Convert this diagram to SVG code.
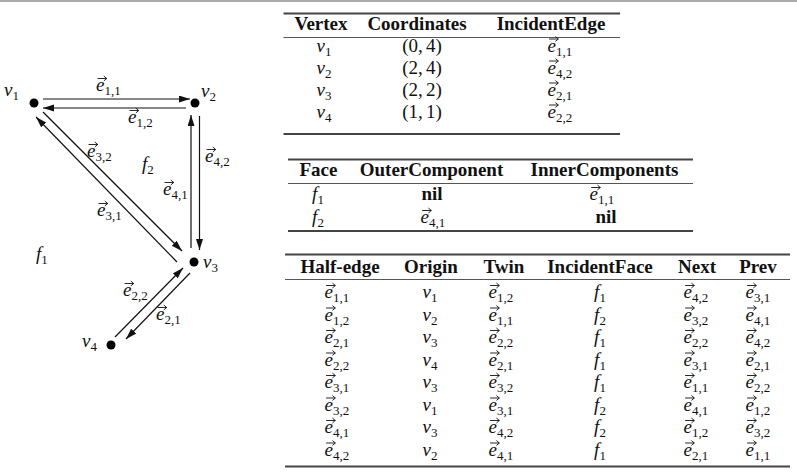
<svg xmlns="http://www.w3.org/2000/svg" xmlns:xlink="http://www.w3.org/1999/xlink" width="797" height="473" viewBox="0 0 797 473">
<style>
.m{font-family:"Liberation Serif","DejaVu Serif",serif;font-size:19px;fill:#111}
.b{font-weight:bold}
.it{font-style:italic}
.s{font-size:13px;font-style:normal}
.c{text-anchor:middle}
.edge{stroke:#111;stroke-width:1.2;fill:none;marker-end:url(#ah)}
.dot{fill:#000}
.rt{stroke:#444;stroke-width:1.8}
.rm{stroke:#555;stroke-width:1}
.vec{stroke:#111;stroke-width:0.9;fill:none;stroke-linecap:round}
</style>
<defs>
<marker id="ah" markerUnits="userSpaceOnUse" markerWidth="11" markerHeight="8" refX="11" refY="3.5" orient="auto">
<path d="M0,0 L11,3.5 L0,7 z" fill="#111"/>
</marker>
<path id="vec" class="vec" d="M0,0 H8.5 M6.2,-2.2 L8.8,0 L6.2,2.2"/>
</defs>
<rect width="797" height="473" fill="#fff"/>
<line x1="0" y1="1" x2="797" y2="1" stroke="#aaa" stroke-width="2"/>

<g id="connectors">
<line class="edge" x1="43" y1="99" x2="190" y2="99"/>
<line class="edge" x1="186" y1="108" x2="43" y2="108"/>
<line class="edge" x1="199.5" y1="116" x2="199.5" y2="250"/>
<line class="edge" x1="191" y1="248" x2="191" y2="115"/>
<line class="edge" x1="43" y1="112" x2="182" y2="251"/>
<line class="edge" x1="177" y1="262" x2="36" y2="117"/>
<line class="edge" x1="115" y1="337" x2="183" y2="268"/>
<line class="edge" x1="190" y1="273" x2="126" y2="339"/>
</g>

<g id="v1"><circle class="dot" cx="34" cy="103" r="4.5"/><text class="m" x="4" y="96"><tspan class="it">v</tspan><tspan class="s" dy="4">1</tspan></text></g>
<g id="v2"><circle class="dot" cx="195" cy="103" r="4.5"/><text class="m" x="201" y="97"><tspan class="it">v</tspan><tspan class="s" dy="4">2</tspan></text></g>
<g id="v3"><circle class="dot" cx="194" cy="262" r="4.5"/><text class="m" x="203" y="268"><tspan class="it">v</tspan><tspan class="s" dy="4">3</tspan></text></g>
<g id="v4"><circle class="dot" cx="111" cy="345" r="4.5"/><text class="m" x="82" y="347"><tspan class="it">v</tspan><tspan class="s" dy="4">4</tspan></text></g>

<g id="graph-labels">
<g transform="translate(108.4,91)"><text class="m" x="-12.4"><tspan class="it">e</tspan><tspan class="s" dy="4">1,1</tspan></text><use xlink:href="#vec" x="-10.5" y="-12.5"/></g>
<g transform="translate(140.4,123)"><text class="m" x="-12.4"><tspan class="it">e</tspan><tspan class="s" dy="4">1,2</tspan></text><use xlink:href="#vec" x="-10.5" y="-12.5"/></g>
<g transform="translate(99.4,157)"><text class="m" x="-12.4"><tspan class="it">e</tspan><tspan class="s" dy="4">3,2</tspan></text><use xlink:href="#vec" x="-10.5" y="-12.5"/></g>
<g transform="translate(217.4,162)"><text class="m" x="-12.4"><tspan class="it">e</tspan><tspan class="s" dy="4">4,2</tspan></text><use xlink:href="#vec" x="-10.5" y="-12.5"/></g>
<g transform="translate(175.4,195)"><text class="m" x="-12.4"><tspan class="it">e</tspan><tspan class="s" dy="4">4,1</tspan></text><use xlink:href="#vec" x="-10.5" y="-12.5"/></g>
<g transform="translate(109.4,216)"><text class="m" x="-12.4"><tspan class="it">e</tspan><tspan class="s" dy="4">3,1</tspan></text><use xlink:href="#vec" x="-10.5" y="-12.5"/></g>
<g transform="translate(135.4,296)"><text class="m" x="-12.4"><tspan class="it">e</tspan><tspan class="s" dy="4">2,2</tspan></text><use xlink:href="#vec" x="-10.5" y="-12.5"/></g>
<g transform="translate(168.4,320)"><text class="m" x="-12.4"><tspan class="it">e</tspan><tspan class="s" dy="4">2,1</tspan></text><use xlink:href="#vec" x="-10.5" y="-12.5"/></g>
<text class="m" x="142" y="170"><tspan class="it">f</tspan><tspan class="s" dy="4">2</tspan></text>
<text class="m" x="36" y="260"><tspan class="it">f</tspan><tspan class="s" dy="4">1</tspan></text>
</g>

<g id="vertex-table">
<line class="rt" x1="283.5" y1="13.5" x2="620" y2="13.5"/>
<line class="rm" x1="283.5" y1="37.5" x2="620" y2="37.5"/>
<line class="rt" x1="283.5" y1="134" x2="620" y2="134"/>
<text class="m b c" x="321" y="30">Vertex</text>
<text class="m b c" x="417" y="30">Coordinates</text>
<text class="m b c" x="551" y="30">IncidentEdge</text>
<text class="m c" x="324" y="51.5"><tspan class="it">v</tspan><tspan class="s" dy="4">1</tspan></text>
<text class="m c" x="324" y="73.5"><tspan class="it">v</tspan><tspan class="s" dy="4">2</tspan></text>
<text class="m c" x="324" y="95.5"><tspan class="it">v</tspan><tspan class="s" dy="4">3</tspan></text>
<text class="m c" x="324" y="117.5"><tspan class="it">v</tspan><tspan class="s" dy="4">4</tspan></text>
<text class="m c" x="422" y="51.5">(0,<tspan dx="3">4)</tspan></text>
<text class="m c" x="422" y="73.5">(2,<tspan dx="3">4)</tspan></text>
<text class="m c" x="422" y="95.5">(2,<tspan dx="3">2)</tspan></text>
<text class="m c" x="422" y="117.5">(1,<tspan dx="3">1)</tspan></text>
<g transform="translate(560,51.5)"><text class="m" x="-12.4"><tspan class="it">e</tspan><tspan class="s" dy="4">1,1</tspan></text><use xlink:href="#vec" x="-10.5" y="-12.5"/></g>
<g transform="translate(560,73.5)"><text class="m" x="-12.4"><tspan class="it">e</tspan><tspan class="s" dy="4">4,2</tspan></text><use xlink:href="#vec" x="-10.5" y="-12.5"/></g>
<g transform="translate(560,95.5)"><text class="m" x="-12.4"><tspan class="it">e</tspan><tspan class="s" dy="4">2,1</tspan></text><use xlink:href="#vec" x="-10.5" y="-12.5"/></g>
<g transform="translate(560,117.5)"><text class="m" x="-12.4"><tspan class="it">e</tspan><tspan class="s" dy="4">2,2</tspan></text><use xlink:href="#vec" x="-10.5" y="-12.5"/></g>
</g>

<g id="face-table">
<line class="rt" x1="288" y1="159.5" x2="693" y2="159.5"/>
<line class="rm" x1="288" y1="183.5" x2="693" y2="183.5"/>
<line class="rt" x1="288" y1="231" x2="693" y2="231"/>
<text class="m b c" x="318.5" y="176">Face</text>
<text class="m b c" x="431.5" y="176">OuterComponent</text>
<text class="m b c" x="604.5" y="176">InnerComponents</text>
<text class="m c" x="318" y="200"><tspan class="it">f</tspan><tspan class="s" dy="4">1</tspan></text>
<text class="m c" x="318" y="223"><tspan class="it">f</tspan><tspan class="s" dy="4">2</tspan></text>
<text class="m b c" x="432" y="200">nil</text>
<g transform="translate(433,223)"><text class="m" x="-12.4"><tspan class="it">e</tspan><tspan class="s" dy="4">4,1</tspan></text><use xlink:href="#vec" x="-10.5" y="-12.5"/></g>
<g transform="translate(602,200)"><text class="m" x="-12.4"><tspan class="it">e</tspan><tspan class="s" dy="4">1,1</tspan></text><use xlink:href="#vec" x="-10.5" y="-12.5"/></g>
<text class="m b c" x="606" y="223">nil</text>
</g>

<g id="halfedge-table">
<line class="rt" x1="285" y1="254.5" x2="790" y2="254.5"/>
<line class="rm" x1="285" y1="279.5" x2="790" y2="279.5"/>
<line class="rt" x1="285" y1="466.5" x2="790" y2="466.5"/>
<text class="m b c" x="340" y="273">Half-edge</text>
<text class="m b c" x="431" y="273">Origin</text>
<text class="m b c" x="504" y="273">Twin</text>
<text class="m b c" x="600" y="273">IncidentFace</text>
<text class="m b c" x="697" y="273">Next</text>
<text class="m b c" x="758" y="273">Prev</text>

<g transform="translate(337,298)"><text class="m" x="-12.4"><tspan class="it">e</tspan><tspan class="s" dy="4">1,1</tspan></text><use xlink:href="#vec" x="-10.5" y="-12.5"/></g>
<text class="m c" x="430" y="298"><tspan class="it">v</tspan><tspan class="s" dy="4">1</tspan></text>
<g transform="translate(501,298)"><text class="m" x="-12.4"><tspan class="it">e</tspan><tspan class="s" dy="4">1,2</tspan></text><use xlink:href="#vec" x="-10.5" y="-12.5"/></g>
<text class="m c" x="600" y="298"><tspan class="it">f</tspan><tspan class="s" dy="4">1</tspan></text>
<g transform="translate(696,298)"><text class="m" x="-12.4"><tspan class="it">e</tspan><tspan class="s" dy="4">4,2</tspan></text><use xlink:href="#vec" x="-10.5" y="-12.5"/></g>
<g transform="translate(758,298)"><text class="m" x="-12.4"><tspan class="it">e</tspan><tspan class="s" dy="4">3,1</tspan></text><use xlink:href="#vec" x="-10.5" y="-12.5"/></g>

<g transform="translate(337,320.5)"><text class="m" x="-12.4"><tspan class="it">e</tspan><tspan class="s" dy="4">1,2</tspan></text><use xlink:href="#vec" x="-10.5" y="-12.5"/></g>
<text class="m c" x="430" y="320.5"><tspan class="it">v</tspan><tspan class="s" dy="4">2</tspan></text>
<g transform="translate(501,320.5)"><text class="m" x="-12.4"><tspan class="it">e</tspan><tspan class="s" dy="4">1,1</tspan></text><use xlink:href="#vec" x="-10.5" y="-12.5"/></g>
<text class="m c" x="600" y="320.5"><tspan class="it">f</tspan><tspan class="s" dy="4">2</tspan></text>
<g transform="translate(696,320.5)"><text class="m" x="-12.4"><tspan class="it">e</tspan><tspan class="s" dy="4">3,2</tspan></text><use xlink:href="#vec" x="-10.5" y="-12.5"/></g>
<g transform="translate(758,320.5)"><text class="m" x="-12.4"><tspan class="it">e</tspan><tspan class="s" dy="4">4,1</tspan></text><use xlink:href="#vec" x="-10.5" y="-12.5"/></g>

<g transform="translate(337,343)"><text class="m" x="-12.4"><tspan class="it">e</tspan><tspan class="s" dy="4">2,1</tspan></text><use xlink:href="#vec" x="-10.5" y="-12.5"/></g>
<text class="m c" x="430" y="343"><tspan class="it">v</tspan><tspan class="s" dy="4">3</tspan></text>
<g transform="translate(501,343)"><text class="m" x="-12.4"><tspan class="it">e</tspan><tspan class="s" dy="4">2,2</tspan></text><use xlink:href="#vec" x="-10.5" y="-12.5"/></g>
<text class="m c" x="600" y="343"><tspan class="it">f</tspan><tspan class="s" dy="4">1</tspan></text>
<g transform="translate(696,343)"><text class="m" x="-12.4"><tspan class="it">e</tspan><tspan class="s" dy="4">2,2</tspan></text><use xlink:href="#vec" x="-10.5" y="-12.5"/></g>
<g transform="translate(758,343)"><text class="m" x="-12.4"><tspan class="it">e</tspan><tspan class="s" dy="4">4,2</tspan></text><use xlink:href="#vec" x="-10.5" y="-12.5"/></g>

<g transform="translate(337,365.5)"><text class="m" x="-12.4"><tspan class="it">e</tspan><tspan class="s" dy="4">2,2</tspan></text><use xlink:href="#vec" x="-10.5" y="-12.5"/></g>
<text class="m c" x="430" y="365.5"><tspan class="it">v</tspan><tspan class="s" dy="4">4</tspan></text>
<g transform="translate(501,365.5)"><text class="m" x="-12.4"><tspan class="it">e</tspan><tspan class="s" dy="4">2,1</tspan></text><use xlink:href="#vec" x="-10.5" y="-12.5"/></g>
<text class="m c" x="600" y="365.5"><tspan class="it">f</tspan><tspan class="s" dy="4">1</tspan></text>
<g transform="translate(696,365.5)"><text class="m" x="-12.4"><tspan class="it">e</tspan><tspan class="s" dy="4">3,1</tspan></text><use xlink:href="#vec" x="-10.5" y="-12.5"/></g>
<g transform="translate(758,365.5)"><text class="m" x="-12.4"><tspan class="it">e</tspan><tspan class="s" dy="4">2,1</tspan></text><use xlink:href="#vec" x="-10.5" y="-12.5"/></g>

<g transform="translate(337,388)"><text class="m" x="-12.4"><tspan class="it">e</tspan><tspan class="s" dy="4">3,1</tspan></text><use xlink:href="#vec" x="-10.5" y="-12.5"/></g>
<text class="m c" x="430" y="388"><tspan class="it">v</tspan><tspan class="s" dy="4">3</tspan></text>
<g transform="translate(501,388)"><text class="m" x="-12.4"><tspan class="it">e</tspan><tspan class="s" dy="4">3,2</tspan></text><use xlink:href="#vec" x="-10.5" y="-12.5"/></g>
<text class="m c" x="600" y="388"><tspan class="it">f</tspan><tspan class="s" dy="4">1</tspan></text>
<g transform="translate(696,388)"><text class="m" x="-12.4"><tspan class="it">e</tspan><tspan class="s" dy="4">1,1</tspan></text><use xlink:href="#vec" x="-10.5" y="-12.5"/></g>
<g transform="translate(758,388)"><text class="m" x="-12.4"><tspan class="it">e</tspan><tspan class="s" dy="4">2,2</tspan></text><use xlink:href="#vec" x="-10.5" y="-12.5"/></g>

<g transform="translate(337,410.5)"><text class="m" x="-12.4"><tspan class="it">e</tspan><tspan class="s" dy="4">3,2</tspan></text><use xlink:href="#vec" x="-10.5" y="-12.5"/></g>
<text class="m c" x="430" y="410.5"><tspan class="it">v</tspan><tspan class="s" dy="4">1</tspan></text>
<g transform="translate(501,410.5)"><text class="m" x="-12.4"><tspan class="it">e</tspan><tspan class="s" dy="4">3,1</tspan></text><use xlink:href="#vec" x="-10.5" y="-12.5"/></g>
<text class="m c" x="600" y="410.5"><tspan class="it">f</tspan><tspan class="s" dy="4">2</tspan></text>
<g transform="translate(696,410.5)"><text class="m" x="-12.4"><tspan class="it">e</tspan><tspan class="s" dy="4">4,1</tspan></text><use xlink:href="#vec" x="-10.5" y="-12.5"/></g>
<g transform="translate(758,410.5)"><text class="m" x="-12.4"><tspan class="it">e</tspan><tspan class="s" dy="4">1,2</tspan></text><use xlink:href="#vec" x="-10.5" y="-12.5"/></g>

<g transform="translate(337,433)"><text class="m" x="-12.4"><tspan class="it">e</tspan><tspan class="s" dy="4">4,1</tspan></text><use xlink:href="#vec" x="-10.5" y="-12.5"/></g>
<text class="m c" x="430" y="433"><tspan class="it">v</tspan><tspan class="s" dy="4">3</tspan></text>
<g transform="translate(501,433)"><text class="m" x="-12.4"><tspan class="it">e</tspan><tspan class="s" dy="4">4,2</tspan></text><use xlink:href="#vec" x="-10.5" y="-12.5"/></g>
<text class="m c" x="600" y="433"><tspan class="it">f</tspan><tspan class="s" dy="4">2</tspan></text>
<g transform="translate(696,433)"><text class="m" x="-12.4"><tspan class="it">e</tspan><tspan class="s" dy="4">1,2</tspan></text><use xlink:href="#vec" x="-10.5" y="-12.5"/></g>
<g transform="translate(758,433)"><text class="m" x="-12.4"><tspan class="it">e</tspan><tspan class="s" dy="4">3,2</tspan></text><use xlink:href="#vec" x="-10.5" y="-12.5"/></g>

<g transform="translate(337,455.5)"><text class="m" x="-12.4"><tspan class="it">e</tspan><tspan class="s" dy="4">4,2</tspan></text><use xlink:href="#vec" x="-10.5" y="-12.5"/></g>
<text class="m c" x="430" y="455.5"><tspan class="it">v</tspan><tspan class="s" dy="4">2</tspan></text>
<g transform="translate(501,455.5)"><text class="m" x="-12.4"><tspan class="it">e</tspan><tspan class="s" dy="4">4,1</tspan></text><use xlink:href="#vec" x="-10.5" y="-12.5"/></g>
<text class="m c" x="600" y="455.5"><tspan class="it">f</tspan><tspan class="s" dy="4">1</tspan></text>
<g transform="translate(696,455.5)"><text class="m" x="-12.4"><tspan class="it">e</tspan><tspan class="s" dy="4">2,1</tspan></text><use xlink:href="#vec" x="-10.5" y="-12.5"/></g>
<g transform="translate(758,455.5)"><text class="m" x="-12.4"><tspan class="it">e</tspan><tspan class="s" dy="4">1,1</tspan></text><use xlink:href="#vec" x="-10.5" y="-12.5"/></g>
</g>
</svg>
